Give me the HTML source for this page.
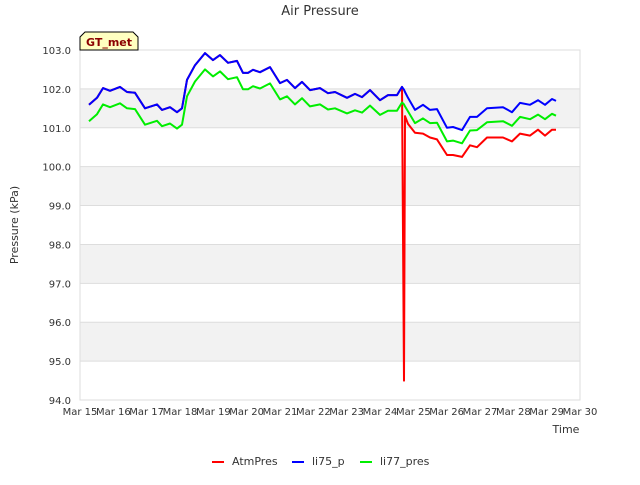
<!DOCTYPE html>
<html><head><meta charset="utf-8"><style>
body{margin:0;background:#fff;font-family:"Liberation Sans","DejaVu Sans",sans-serif}
svg text{font-family:"DejaVu Sans","Liberation Sans",sans-serif}
</style></head><body>
<svg id="chart" width="640" height="480">
<rect width="640" height="480" fill="#fff"/>
<text x="320" y="15" text-anchor="middle" font-size="13" fill="#333">Air Pressure</text>
<g id="bands"></g><g id="grid"></g>
<rect x="80" y="50" width="500" height="350" fill="none" stroke="#ddd"/>
<g id="series"></g><g id="axes"></g>
<text transform="translate(18,225) rotate(-90)" text-anchor="middle" font-size="11" fill="#333">Pressure (kPa)</text>
<text x="566" y="433" text-anchor="middle" font-size="11" fill="#333">Time</text>
<g>
<path d="M80,50 L80,37 L85,32 L133,32 L138,37 L138,50 Z" fill="#ffffc0" stroke="#000"/>
<text x="109" y="46" text-anchor="middle" font-size="11" font-weight="bold" fill="#8b0000">GT_met</text></g>
<g>
<g><line x1="212" y1="462" x2="224" y2="462" stroke="#f00" stroke-width="2"/><text x="232" y="465" font-size="11" fill="#333">AtmPres</text></g>
<g><line x1="292" y1="462" x2="304" y2="462" stroke="#00f" stroke-width="2"/><text x="312" y="465" font-size="11" fill="#333">li75_p</text></g>
<g><line x1="360" y1="462" x2="372" y2="462" stroke="#0e0" stroke-width="2"/><text x="380" y="465" font-size="11" fill="#333">li77_pres</text></g>
</g>
</svg>
<script>
const times=[0.27,0.51,0.69,0.9,1.2,1.41,1.65,1.95,2.31,2.46,2.7,2.91,3.06,3.21,3.45,3.75,3.99,4.2,4.44,4.71,4.89,5.04,5.19,5.4,5.7,6.0,6.21,6.45,6.66,6.9,7.2,7.44,7.65,8.01,8.25,8.46,8.7,9.0,9.24,9.51,9.66,9.72,9.75,9.84,10.05,10.29,10.5,10.71,11.01,11.19,11.46,11.7,11.91,12.21,12.69,12.96,13.2,13.5,13.74,13.95,14.16,14.28];
const li75=[101.59,101.77,102.02,101.95,102.05,101.92,101.9,101.5,101.6,101.46,101.53,101.4,101.5,102.23,102.61,102.92,102.74,102.87,102.67,102.72,102.41,102.41,102.49,102.43,102.56,102.15,102.23,102.02,102.18,101.97,102.02,101.89,101.92,101.77,101.87,101.79,101.97,101.71,101.84,101.84,102.05,101.98,101.92,101.77,101.46,101.59,101.46,101.48,101.0,101.02,100.94,101.28,101.28,101.5,101.53,101.4,101.64,101.59,101.71,101.59,101.74,101.69];
const atm=[101.59,101.77,102.02,101.95,102.05,101.92,101.9,101.5,101.6,101.46,101.53,101.4,101.5,102.23,102.61,102.92,102.74,102.87,102.67,102.72,102.41,102.41,102.49,102.43,102.56,102.15,102.23,102.02,102.18,101.97,102.02,101.89,101.92,101.77,101.87,101.79,101.97,101.71,101.84,101.84,102.05,94.5,101.3,101.1,100.87,100.85,100.75,100.7,100.3,100.3,100.25,100.55,100.5,100.75,100.75,100.65,100.85,100.8,100.95,100.8,100.95,100.95];
const li77=[101.17,101.35,101.6,101.53,101.63,101.5,101.48,101.08,101.18,101.04,101.11,100.98,101.08,101.81,102.19,102.5,102.32,102.45,102.25,102.3,101.99,101.99,102.07,102.01,102.14,101.73,101.81,101.6,101.76,101.55,101.6,101.47,101.5,101.37,101.45,101.39,101.57,101.33,101.44,101.44,101.65,101.6,101.55,101.42,101.12,101.24,101.12,101.13,100.65,100.67,100.6,100.93,100.94,101.14,101.17,101.05,101.28,101.22,101.34,101.22,101.36,101.31];
const yTicks=[94,95,96,97,98,99,100,101,102,103];
const xTicks=["Mar 15","Mar 16","Mar 17","Mar 18","Mar 19","Mar 20","Mar 21","Mar 22","Mar 23","Mar 24","Mar 25","Mar 26","Mar 27","Mar 28","Mar 29","Mar 30"];
const NS="http://www.w3.org/2000/svg";
const X0=80,X1=580,Y0=400,Y1=50;
const xs=t=>X0+t*(X1-X0)/15, ys=v=>Y0-(v-94)*(Y0-Y1)/9;
function mk(tag,a,p){const e=document.createElementNS(NS,tag);for(const k in a)e.setAttribute(k,a[k]);p.appendChild(e);return e;}
const bands=document.getElementById('bands'),grid=document.getElementById('grid'),axes=document.getElementById('axes'),ser=document.getElementById('series');
[95,97,99,101].forEach(b=>{const r=mk('rect',{x:X0,y:ys(b+1),width:X1-X0,height:ys(b)-ys(b+1),fill:'#f2f2f2'},bands);

});
yTicks.forEach(v=>{const l=mk('line',{x1:X0,x2:X1,y1:ys(v),y2:ys(v),stroke:'#ddd'},grid);


const t=mk('text',{x:X0-9,y:ys(v)+4,'text-anchor':'end','font-size':10,fill:'#333'},axes);t.textContent=v.toFixed(1);

});
xTicks.forEach((s,i)=>{const t=mk('text',{x:xs(i),y:415,'text-anchor':'middle','font-size':10,fill:'#333'},axes);t.textContent=s;

});
function line(vals,col,name){const d=times.map((t,i)=>(i?'L':'M')+xs(t).toFixed(1)+','+ys(vals[i]).toFixed(1)).join('');
const p=mk('path',{d:d,fill:'none',stroke:col,'stroke-width':2,'stroke-linejoin':'round'},ser);

}
line(atm,'#f00','series-atmpres');line(li77,'#0e0','series-li77-pres');line(li75,'#00f','series-li75-p');
</script>
</body></html>
